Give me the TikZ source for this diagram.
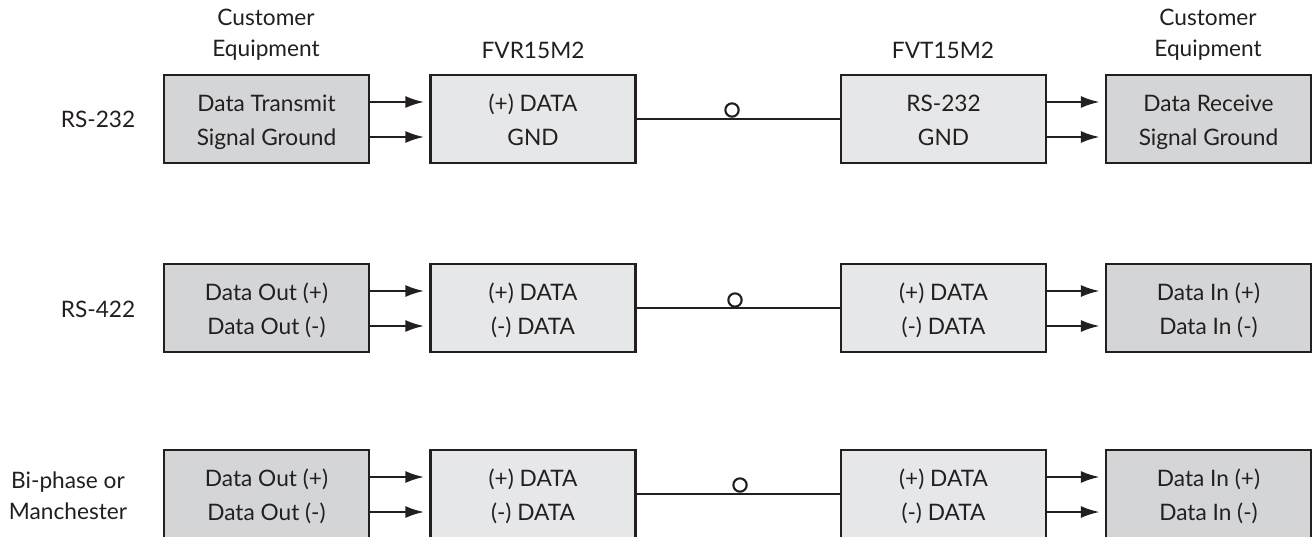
\documentclass[tikz,border=0pt]{standalone}
\usepackage{fontspec}
\setmainfont{Lato}
\usetikzlibrary{calc,arrows.meta}
\definecolor{edge}{HTML}{231F20}
\definecolor{custfill}{HTML}{D4D5D7}
\definecolor{unitfill}{HTML}{E6E7E8}
\newcommand{\boxlines}[2]{\rule{0pt}{19.7pt}#1\\#2\rule[-6pt]{0pt}{0pt}}
\begin{document}
\begin{tikzpicture}[x=0.75pt,y=-0.75pt,
  txt/.style={font=\fontsize{17pt}{23.25pt}\selectfont, text=edge, align=center, inner sep=0pt},
  box/.style={draw=edge, line width=1.9pt, minimum width=154pt, minimum height=66pt, inner sep=0pt,
     align=center, font=\fontsize{17pt}{25.5pt}\selectfont, text=edge},
  cust/.style={box, fill=custfill},
  unit/.style={box, fill=unitfill},
  arr/.style={draw=edge, line width=1.6pt, -{Latex[length=14pt,width=9pt]}},
  link/.style={draw=edge, line width=1.6pt},
  ring/.style={draw=edge, line width=1.6pt, circle, minimum size=10pt, inner sep=0pt}]
\useasboundingbox (0,0) rectangle (1312,536);
\clip (0,0) rectangle (1312,536);
% headers
\node[txt] (hcl) at (266,35) {Customer\\Equipment};
\node[txt] (hfvr) at (533,50) {FVR15M2};
\node[txt] (hfvt) at (943,50) {FVT15M2};
\node[txt] (hcr) at (1208,35) {Customer\\Equipment};
% row labels
\node[txt] (l1) at (98,119) {RS-232};
\node[txt] (l2) at (98,309) {RS-422};
\node[txt] (l3) at (68,496) {Bi-phase or\\Manchester};
% row 1
\node[cust] (cl1) at (266.5,119) {\boxlines{Data Transmit}{Signal Ground}};
\node[unit] (fvr1) at (533,119) {\boxlines{(+) DATA}{GND}};
\node[unit] (fvt1) at (943.5,119) {\boxlines{RS-232}{GND}};
\node[cust] (cr1) at (1208.5,119) {\boxlines{Data Receive}{Signal Ground}};
% row 2
\node[cust] (cl2) at (266.5,308) {\boxlines{Data Out (+)}{Data Out (-)}};
\node[unit] (fvr2) at (533,308) {\boxlines{(+) DATA}{(-) DATA}};
\node[unit] (fvt2) at (943.5,308) {\boxlines{(+) DATA}{(-) DATA}};
\node[cust] (cr2) at (1208.5,308) {\boxlines{Data In (+)}{Data In (-)}};
% row 3
\node[cust] (cl3) at (266.5,494) {\boxlines{Data Out (+)}{Data Out (-)}};
\node[unit] (fvr3) at (533,494) {\boxlines{(+) DATA}{(-) DATA}};
\node[unit] (fvt3) at (943.5,494) {\boxlines{(+) DATA}{(-) DATA}};
\node[cust] (cr3) at (1208.5,494) {\boxlines{Data In (+)}{Data In (-)}};
% arrows
\foreach \r in {1,2,3}{
  \draw[arr] ($(cl\r.east)+(0,-17)$) -- ($(fvr\r.west)+(-5,-17)$);
  \draw[arr] ($(cl\r.east)+(0,18)$) -- ($(fvr\r.west)+(-5,18)$);
  \draw[arr] ($(fvt\r.east)+(0,-17)$) -- ($(cr\r.west)+(-5,-17)$);
  \draw[arr] ($(fvt\r.east)+(0,18)$) -- ($(cr\r.west)+(-5,18)$);
  \draw[link] (fvr\r.east) -- (fvt\r.west);
}
\node[ring] (o1) at (732,110) {};
\node[ring] (o2) at (735,300) {};
\node[ring] (o3) at (740,485) {};
\end{tikzpicture}
\end{document}
